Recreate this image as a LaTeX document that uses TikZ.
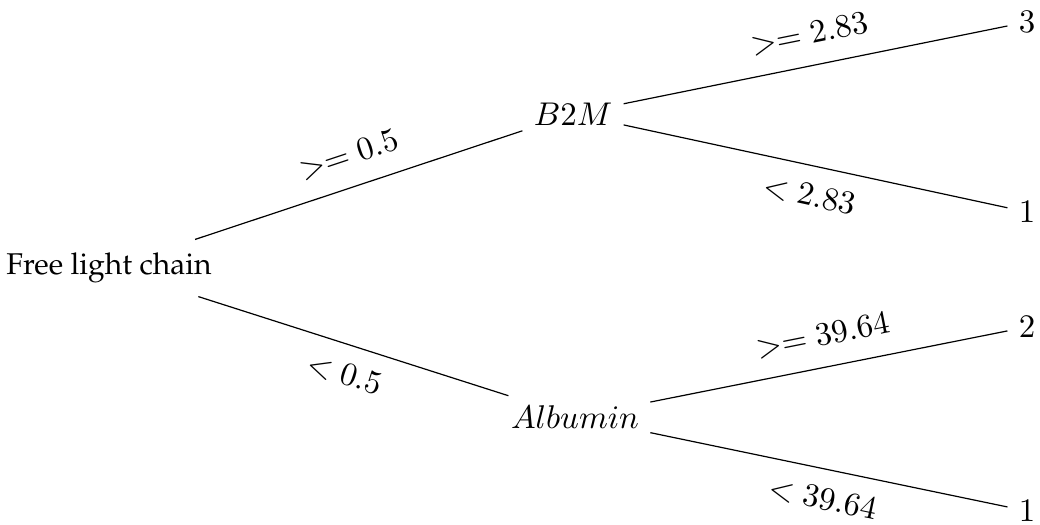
\documentclass[tikz,border=0pt]{standalone}
\usepackage[T1,TU]{fontenc}
\newcommand{\rootfont}{\fontencoding{T1}\fontfamily{ppl}\selectfont}
\newcommand{\mfont}{\fontsize{10.5pt}{12.5pt}\selectfont}
\tikzset{
  tnode/.style={inner xsep=3.8pt, inner ysep=3.3pt, outer sep=0pt, font=\mfont},
  rootnode/.style={inner xsep=4pt, inner ysep=4.5pt, outer sep=0pt, font=\rootfont},
  edgeline/.style={draw=black, line width=0.4pt},
  elabel/.style={midway, sloped, inner sep=0pt, font=\mfont}
}
\begin{document}
\begin{tikzpicture}[x=0.3333pt, y=-0.3333pt]
\useasboundingbox (0,0) rectangle (1040,524);
\node[rootnode] (root) at (109,268) {Free light chain};
\node[tnode] (b2m) at (573,114) {$B2M$};
\node[tnode] (alb) at (575,417) {$Albumin$};
\node[tnode] (l3) at (1027,22) {$3$};
\node[tnode] (l1a) at (1027,212) {$1$};
\node[tnode] (l2) at (1027,327) {$2$};
\node[tnode] (l1b) at (1027,511) {$1$};
\draw[edgeline] (root) -- (b2m) node[elabel, above=6.5pt] {$>= 0.5$};
\draw[edgeline] (root) -- (alb) node[elabel, below=6pt] {$< 0.5$};
\draw[edgeline] (b2m) -- (l3) node[elabel, above=6.5pt] {$>= 2.83$};
\draw[edgeline] (b2m) -- (l1a) node[elabel, below=6pt] {$< 2.83$};
\draw[edgeline] (alb) -- (l2) node[elabel, above=6.5pt] {$>= 39.64$};
\draw[edgeline] (alb) -- (l1b) node[elabel, below=6pt] {$< 39.64$};
\end{tikzpicture}
\end{document}
